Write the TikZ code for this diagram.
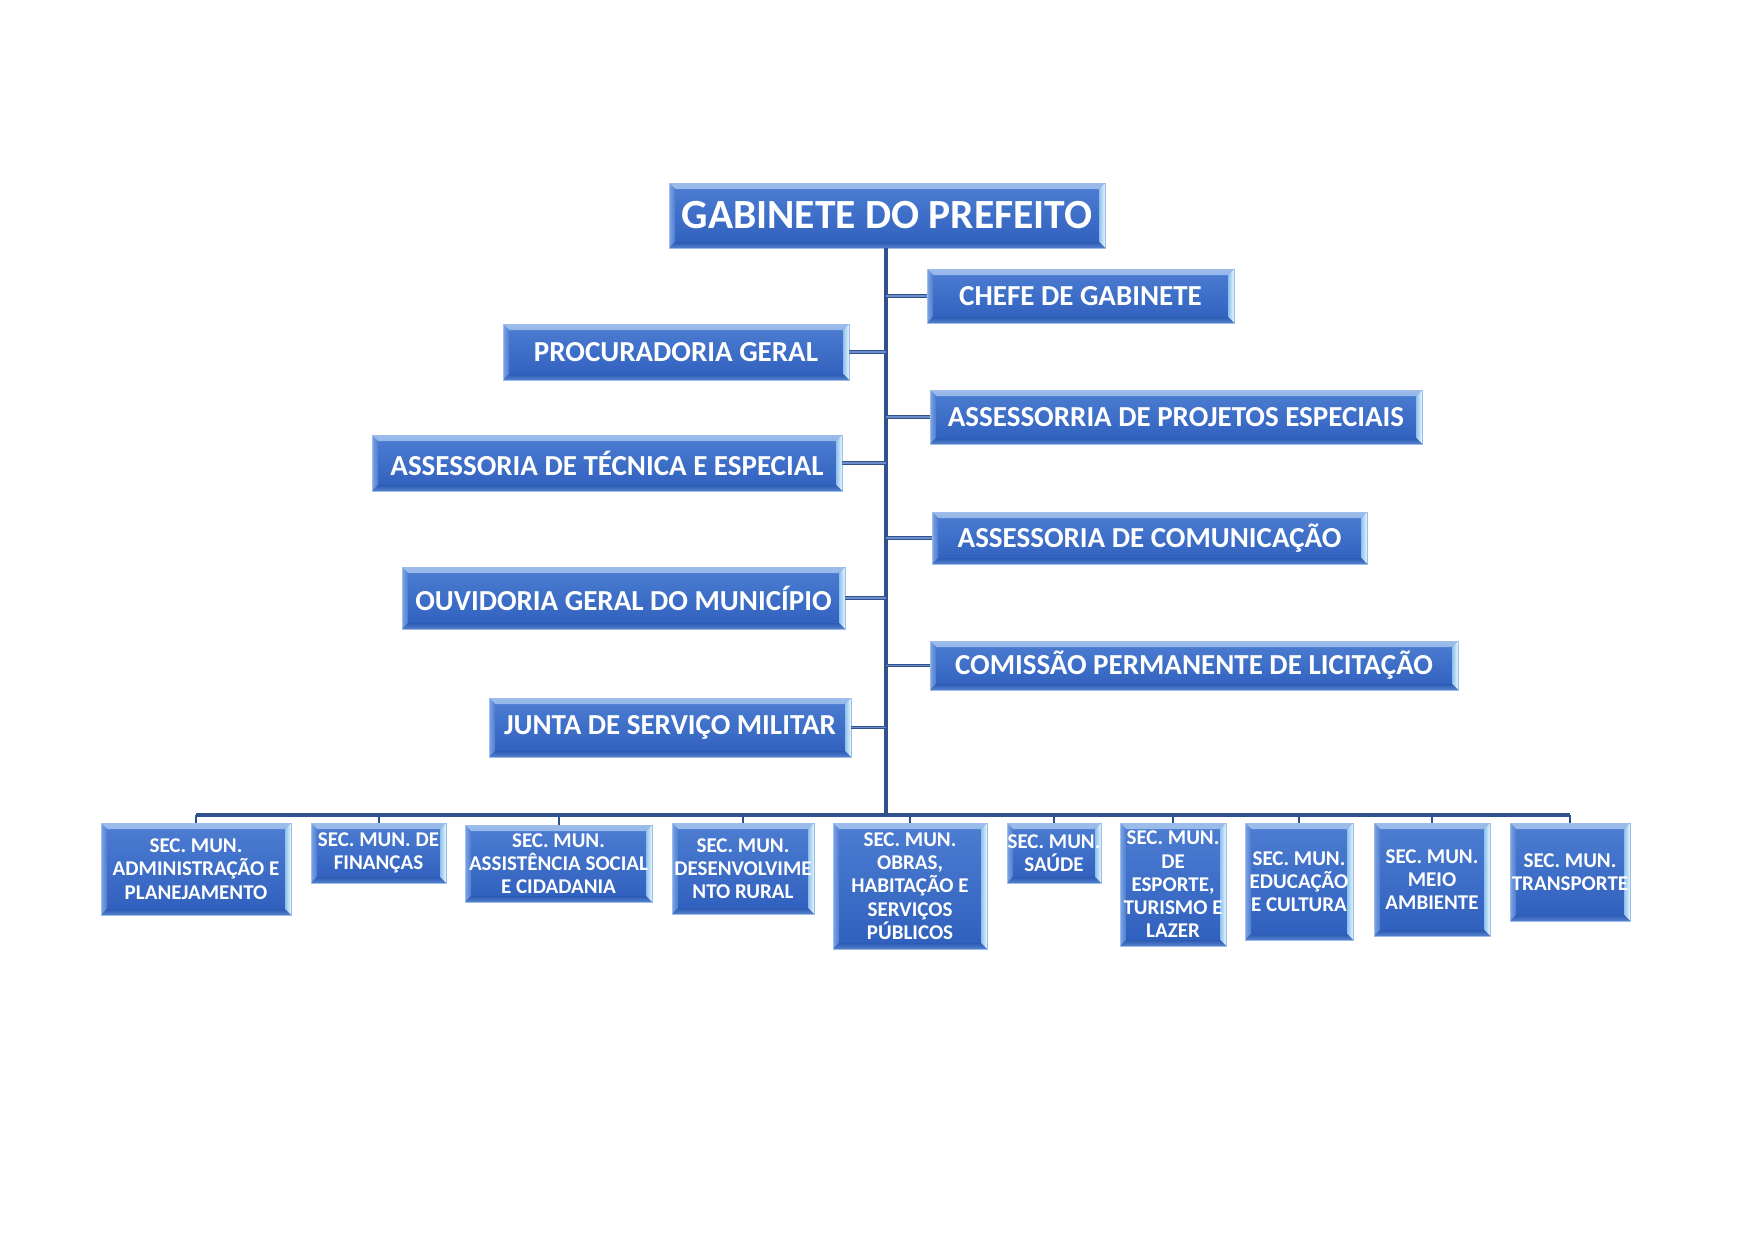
\documentclass[tikz,border=0pt]{standalone}
\usepackage{fontspec}
\setmainfont{Carlito}
\definecolor{boxtop}{HTML}{4D7ED2}
\definecolor{boxbot}{HTML}{2F5FBD}
\definecolor{rimtopA}{HTML}{9CBCEB}
\definecolor{rimtopB}{HTML}{5B8AD7}
\definecolor{rimleftA}{HTML}{7FA4E3}
\definecolor{rimleftB}{HTML}{4C7DD1}
\definecolor{rimrightA}{HTML}{8CC0EC}
\definecolor{rimrightB}{HTML}{E6F6FD}
\definecolor{rimbotA}{HTML}{2D5AB3}
\definecolor{rimbotB}{HTML}{5583CF}
\definecolor{edge}{HTML}{9DBEEB}
\definecolor{conn}{HTML}{2F528F}
\definecolor{branchin}{HTML}{6C8ECB}
\usetikzlibrary{calc}
\tikzset{
  orgbox/.style={draw=edge, line width=1pt, top color=boxtop, bottom color=boxbot,
    inner sep=0pt, outer sep=0pt,
    path picture={
      \shade[top color=rimtopA, bottom color=rimtopB]
        (path picture bounding box.north west) -- (path picture bounding box.north east)
        -- ([xshift=-6pt,yshift=-6pt]path picture bounding box.north east)
        -- ([xshift=6pt,yshift=-6pt]path picture bounding box.north west) -- cycle;
      \shade[left color=rimleftA, right color=rimleftB]
        (path picture bounding box.north west) -- (path picture bounding box.south west)
        -- ([xshift=6pt,yshift=6pt]path picture bounding box.south west)
        -- ([xshift=6pt,yshift=-6pt]path picture bounding box.north west) -- cycle;
      \shade[left color=rimrightA, right color=rimrightB]
        (path picture bounding box.north east) -- (path picture bounding box.south east)
        -- ([xshift=-6pt,yshift=6pt]path picture bounding box.south east)
        -- ([xshift=-6pt,yshift=-6pt]path picture bounding box.north east) -- cycle;
      \shade[top color=rimbotA, bottom color=rimbotB]
        (path picture bounding box.south west) -- (path picture bounding box.south east)
        -- ([xshift=-6pt,yshift=6pt]path picture bounding box.south east)
        -- ([xshift=6pt,yshift=6pt]path picture bounding box.south west) -- cycle;
    }},
  bigtxt/.style={text=white, font=\fontsize{41.5}{48}\selectfont\bfseries, inner sep=0pt},
  medtxt/.style={text=white, font=\fontsize{29}{34}\selectfont\bfseries, inner sep=0pt},
  smalltxt/.style={text=white, font=\fontsize{21}{23.2}\selectfont\bfseries, inner sep=0pt, align=center},
  trunk/.style={draw=conn, line width=4pt},
  branch/.style={draw=conn, line width=1pt, double=branchin, double distance=1.6pt},
  bus/.style={draw=conn, line width=3.5pt},
  drop/.style={draw=conn, line width=2pt},
}
\newcommand\orgbox[6]{% name, l, t, r, b, text style
  \pgfmathsetmacro\obW{#4-#2}\pgfmathsetmacro\obH{#5-#3}%
  \pgfmathsetmacro\obX{(#2+#4)/2}\pgfmathsetmacro\obY{(#3+#5)/2}%
  \node[orgbox, minimum width=\obW pt, minimum height=\obH pt] (#1) at (\obX,\obY) {};
  \node[#6] (t-#1) at (#1.center)}
\begin{document}
\begin{tikzpicture}[x=1pt,y=-1pt]
\fill[white] (0,0) rectangle (1754,1240);
\path[use as bounding box] (0,0) rectangle (1754,1240);

\coordinate (busc) at (886,815);
\coordinate (gabs) at (886,248);

% top box
\orgbox{gab}{669}{183}{1105}{248}{bigtxt} {GABINETE DO PREFEITO};

% right column
\orgbox{chefe}{927}{269}{1234}{323}{medtxt} {CHEFE DE GABINETE};
\orgbox{proj}{930}{390}{1422}{444}{medtxt} {ASSESSORRIA DE PROJETOS ESPECIAIS};
\orgbox{comu}{932}{512}{1367}{564}{medtxt} {ASSESSORIA DE COMUNICAÇÃO};
\orgbox{cpl}{930}{641}{1458}{690}{medtxt} {COMISSÃO PERMANENTE DE LICITAÇÃO};

% left column
\orgbox{proc}{503}{324}{849}{380}{medtxt} {PROCURADORIA GERAL};
\orgbox{tec}{372}{435}{842}{491}{medtxt} {ASSESSORIA DE TÉCNICA E ESPECIAL};
\orgbox{ouv}{402}{567}{845}{629}{medtxt} {OUVIDORIA GERAL DO MUNICÍPIO};
\orgbox{junta}{489}{698}{851}{757}{medtxt} {JUNTA DE SERVIÇO MILITAR};

% bottom row
\orgbox{s1}{101}{823}{291}{915}{smalltxt} {SEC. MUN.\\ADMINISTRAÇÃO E\\PLANEJAMENTO};
\orgbox{s2}{311}{823}{446}{883}{smalltxt} {SEC. MUN. DE\\FINANÇAS};
\orgbox{s3}{465}{825}{652}{902}{smalltxt} {SEC. MUN.\\ASSISTÊNCIA SOCIAL\\E CIDADANIA};
\orgbox{s4}{672}{823}{814}{914}{smalltxt} {SEC. MUN.\\DESENVOLVIME\\NTO RURAL};
\orgbox{s5}{833}{823}{987}{949}{smalltxt} {SEC. MUN.\\OBRAS,\\HABITAÇÃO E\\SERVIÇOS\\PÚBLICOS};
\orgbox{s6}{1007}{823}{1101}{883}{smalltxt} {SEC. MUN.\\SAÚDE};
\orgbox{s7}{1120}{823}{1226}{946}{smalltxt} {SEC. MUN.\\DE\\ESPORTE,\\TURISMO E\\LAZER};
\orgbox{s8}{1245}{823}{1353}{940}{smalltxt} {SEC. MUN.\\EDUCAÇÃO\\E CULTURA};
\orgbox{s9}{1374}{823}{1490}{936}{smalltxt} {SEC. MUN.\\MEIO\\AMBIENTE};
\orgbox{s10}{1510}{823}{1630}{921}{smalltxt} {SEC. MUN.\\TRANSPORTE};

% connectors
\draw[trunk] (gabs) -- (busc);
\draw[branch] (busc |- chefe.west) -- (chefe.west);
\draw[branch] (busc |- proj.west) -- (proj.west);
\draw[branch] (busc |- comu.west) -- (comu.west);
\draw[branch] (busc |- cpl.west) -- (cpl.west);
\draw[branch] (proc.east) -- (proc.east -| busc);
\draw[branch] (tec.east) -- (tec.east -| busc);
\draw[branch] (ouv.east) -- (ouv.east -| busc);
\draw[branch] (junta.east) -- (junta.east -| busc);
\draw[bus] (s1.north |- busc) -- (s10.north |- busc);
\foreach \s in {s1,s2,s3,s4,s5,s6,s7,s8,s9,s10}
  \draw[drop] (\s.north |- busc) -- (\s.north);
\end{tikzpicture}
\end{document}
